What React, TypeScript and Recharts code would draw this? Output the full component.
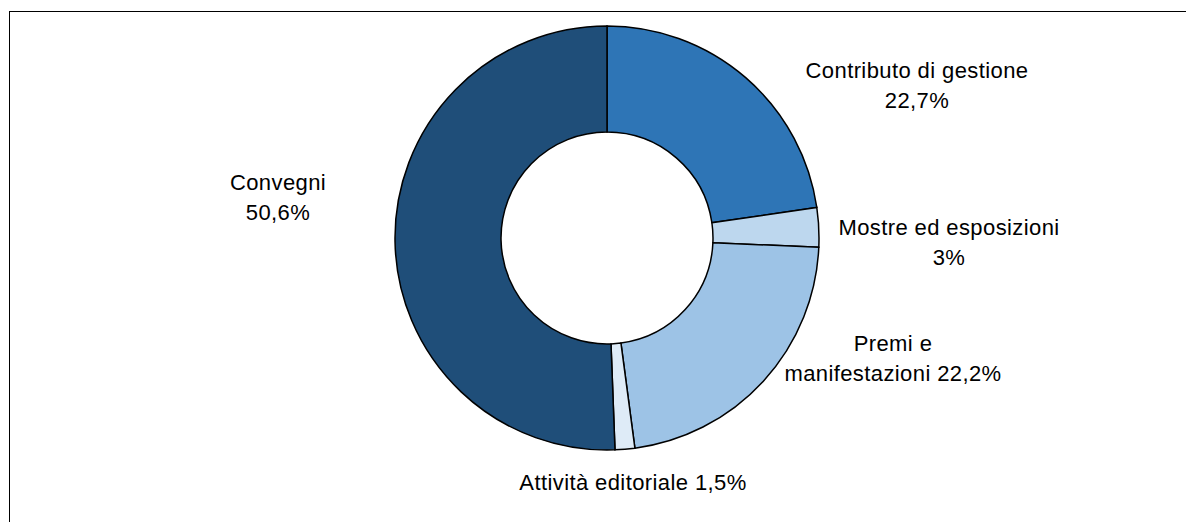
import React from "react";
import { PieChart, Pie, Cell } from "recharts";

const categories = [
  "Contributo di gestione",
  "Mostre ed esposizioni",
  "Premi e manifestazioni",
  "Attività editoriale",
  "Convegni",
];
const values = [22.7, 3, 22.2, 1.5, 50.6];
const colors = ["#2E75B6", "#BDD7EE", "#9DC3E6", "#DEEBF7", "#1F4E79"];

// label text split into lines, as in the original
const labelLines = [
  ["Contributo di gestione", "22,7%"],
  ["Mostre ed esposizioni", "3%"],
  ["Premi e", "manifestazioni 22,2%"],
  ["Attività editoriale 1,5%"],
  ["Convegni", "50,6%"],
];
// label offsets from the donut centre (first line)
const labelOffsets = [
  [310, -168],
  [342, -11],
  [286, 105],
  [26, 244],
  [-329, -56],
];

const WIDTH = 1186;
const HEIGHT = 522;
const CX = 607;
const CY = 238;
const LINE_H = 30;

const data = categories.map((name, i) => ({ name, value: values[i] }));

const renderLabel = (props: any) => {
  const i = props.index;
  const [dx, dy] = labelOffsets[i];
  return (
    <text
      key={`lbl-${i}`}
      x={CX + dx}
      y={CY + dy}
      textAnchor="middle"
      dominantBaseline="central"
      fill="#000"
      fontSize={22}
      letterSpacing={0.4}
      fontFamily="'Liberation Sans', Arial, sans-serif"
    >
      {labelLines[i].map((line, j) => (
        <tspan key={j} x={CX + dx} dy={j === 0 ? 0 : LINE_H}>
          {line}
        </tspan>
      ))}
    </text>
  );
};

export default function App() {
  return (
    <div
      style={{
        position: "absolute",
        left: 0,
        top: 0,
        width: WIDTH,
        height: HEIGHT,
        background: "#fff",
        overflow: "hidden",
      }}
    >
      <div
        style={{
          position: "absolute",
          left: 9,
          top: 11,
          width: WIDTH,
          height: HEIGHT,
          borderLeft: "1.5px solid #000",
          borderTop: "1.5px solid #000",
        }}
      />
      <div style={{ position: "absolute", left: 0, top: 0 }}>
        <PieChart
          width={WIDTH}
          height={HEIGHT}
          margin={{ top: 0, right: 0, bottom: 0, left: 0 }}
        >
          <Pie
            data={data}
            dataKey="value"
            nameKey="name"
            cx={CX}
            cy={CY}
            innerRadius={106}
            outerRadius={212}
            startAngle={90}
            endAngle={-270}
            stroke="#000"
            strokeWidth={1.5}
            label={renderLabel}
            labelLine={false}
            isAnimationActive={false}
          >
            {data.map((entry, index) => (
              <Cell key={`cell-${index}`} fill={colors[index]} />
            ))}
          </Pie>
        </PieChart>
      </div>
    </div>
  );
}
